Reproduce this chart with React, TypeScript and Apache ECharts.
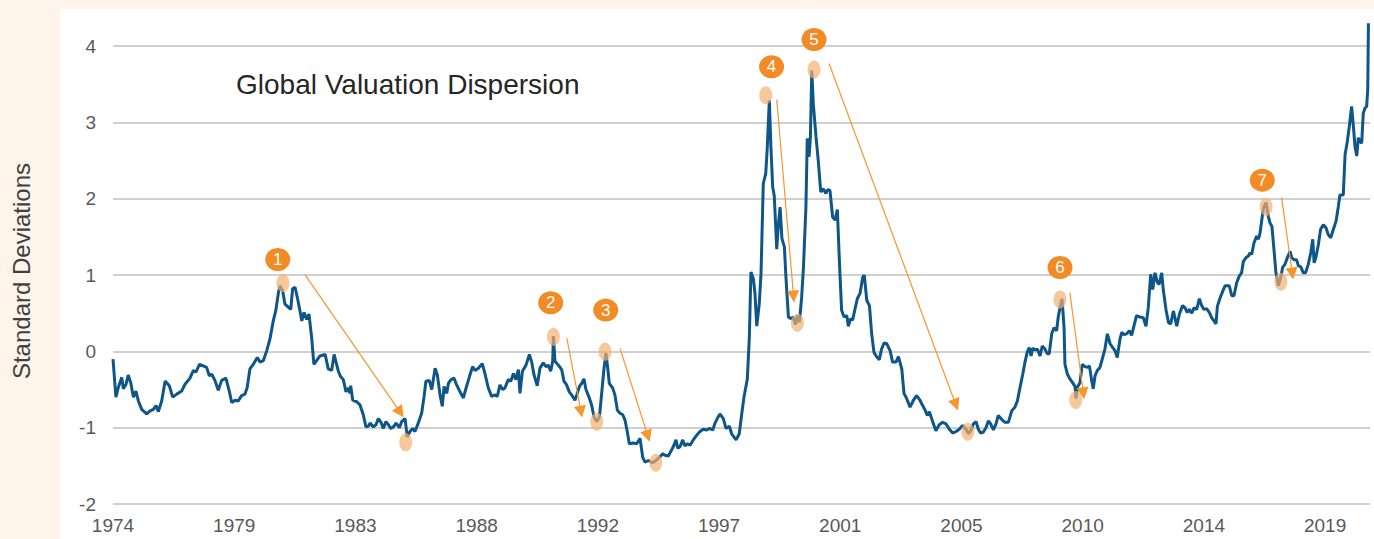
import React, { useEffect, useRef } from 'react';
import * as echarts from 'echarts';

// x position of every reading, in months after the first one (Jan 1974)
const months: number[] = [
  0.0, 1.3, 2.4, 3.9, 4.6, 5.8, 6.8, 7.9, 9.1, 10.2,
  11.3, 12.8, 15.0, 16.5, 18.0, 19.2, 20.2, 21.7, 23.2, 25.1,
  26.6, 28.4, 30.6, 32.1, 34.3, 35.8, 37.0, 38.5, 40.2, 41.7,
  42.9, 44.0, 45.4, 46.9, 48.4, 50.3, 51.8, 52.9, 54.4, 55.8,
  57.3, 58.8, 59.8, 61.0, 62.5, 64.3, 65.5, 67.0, 68.5, 69.9,
  71.4, 72.5, 73.7, 74.4, 75.6, 76.6, 78.1, 79.2, 80.0, 81.1,
  82.1, 83.3, 84.1, 85.1, 86.3, 87.3, 88.5, 89.5, 90.7, 92.2,

  94.5, 95.9, 97.4, 98.5, 99.7, 100.4, 101.4, 102.6, 103.8, 104.8,
  105.6, 105.9, 106.8, 108.6, 110.0, 111.5, 112.7, 113.8, 114.5, 116.0,
  117.2, 118.2, 119.4, 120.4, 121.6, 122.7, 123.7, 124.9, 126.1, 127.6,
  128.6, 130.1, 131.1, 132.3, 133.5, 134.5, 136.0, 137.5, 138.6, 139.4,
  140.9, 142.0, 143.5, 144.5, 145.7, 146.7, 147.5, 148.7, 149.4, 150.6,
  151.9, 153.1, 154.6, 156.1, 157.3, 158.8, 160.2, 161.3, 162.8, 164.5,
  165.7, 167.2, 168.7, 170.2, 171.2, 172.4, 173.6, 174.6, 176.1, 177.2,
  178.4, 179.5, 180.6, 181.3, 182.4, 184.0, 185.5, 186.6, 187.5,

  189.0, 190.2, 191.7, 192.9, 193.9, 195.0, 195.9, 196.2, 196.9, 198.4,
  199.9, 200.9, 202.1, 203.3, 204.8, 205.8, 206.6, 207.8, 208.8, 209.8,
  210.7, 212.2, 213.2, 214.3, 215.5, 216.7, 217.7, 218.7, 219.6, 220.4,
  221.1, 222.6, 223.6, 224.7, 225.9, 227.1, 228.1, 229.1, 230.0, 231.8,
  233.3, 234.8, 236.0, 237.0, 238.5, 240.4, 241.9, 243.7, 244.9, 245.9,
  247.4, 248.9, 249.9, 250.8, 251.6, 252.6, 253.8, 254.8, 255.9, 257.1,
  258.5, 260.0, 261.5, 263.0, 264.5, 265.7, 267.2, 268.2, 269.2,

  270.4, 271.9, 273.1, 274.6, 275.6, 277.6, 279.0, 280.1, 281.1, 282.6,
  283.5, 284.2, 285.3, 286.0, 286.8, 287.9, 288.7, 289.7, 290.8, 291.5,
  292.4, 293.1, 293.9, 294.6, 295.7, 296.4, 297.2, 298.0, 299.1, 299.8,
  300.9, 301.9, 303.1, 304.0, 304.9, 305.8, 306.8, 307.6, 308.7, 309.3,
  310.1, 310.7, 311.3, 312.0, 313.2, 314.2, 315.3, 316.5, 317.6, 318.4,
  319.4, 320.6, 321.7, 322.7, 323.6, 324.6, 325.7, 326.9, 327.6, 328.6,
  329.5, 330.6, 331.6, 332.8, 334.0, 334.7, 335.8, 337.0, 338.0, 339.0,
  340.2, 341.4, 342.4, 343.5, 344.7, 346.2, 347.3, 348.8, 349.9, 351.4,
  352.4, 353.6, 355.1, 356.6, 358.0, 359.5, 360.7, 361.8, 362.8, 363.7,

  365.5, 366.6, 368.1, 369.6, 371.1, 372.6, 374.1, 375.6, 377.0, 378.5,
  380.0, 381.1, 382.1, 383.3, 384.5, 385.5, 386.5, 387.7, 388.9, 390.0,
  391.0, 392.2, 393.4, 394.4, 395.9, 397.4, 398.9, 400.4, 401.8, 402.9,
  404.1, 405.3, 406.3, 407.3, 408.2, 409.0, 409.7, 410.8, 411.8, 413.0,
  414.0, 415.2, 416.2, 417.1, 418.2, 419.2, 420.4, 421.1, 422.2, 422.8,
  423.7, 424.1, 425.2, 426.3, 427.5, 428.6, 429.0, 429.6, 430.8, 431.8,
  433.0, 434.1, 435.0, 436.0, 436.7, 437.5, 438.5, 439.7, 440.9, 441.9,
  443.0, 444.2, 445.4, 446.4, 447.4, 448.6, 449.4, 450.4, 451.6, 452.8,
  453.8, 454.9, 456.0, 457.5,

  459.0, 460.2, 461.2, 462.3, 463.2, 464.2, 465.3, 466.1, 467.2, 467.9,
  469.1, 470.2, 471.2, 472.4, 473.1, 473.9, 475.1, 476.5, 477.6, 478.6,
  479.5, 480.6, 481.6, 482.8, 484.0, 485.0, 486.0, 487.2, 488.4, 489.5,
  490.5, 491.4, 492.0, 493.2, 494.4, 495.4, 496.1, 497.3, 498.4, 499.4,
  500.6, 501.8, 502.8, 503.6, 504.8, 505.8, 506.5, 507.3, 508.3, 509.5,
  510.3, 511.0, 512.2, 512.8, 513.7, 514.7, 515.5, 516.3, 517.2, 518.1,
  519.2, 520.2, 521.1, 522.1, 523.2, 524.4, 525.1, 526.1, 527.3, 528.1,
  529.1, 530.3, 531.3, 532.5, 533.6, 534.5, 535.1, 535.9, 537.0, 538.0,
  539.2, 540.4, 541.4, 542.5, 543.7, 544.9, 545.9, 546.6, 548.1, 548.9,
  549.9, 550.8, 551.8, 552.6, 553.3, 554.1, 554.8, 555.5, 556.3, 557.0,
  557.8, 558.5, 559.0, 559.3,
];

// Global valuation dispersion, in standard deviations
const values: number[] = [
  -0.10, -0.60, -0.47, -0.34, -0.49, -0.43, -0.31, -0.41, -0.60, -0.52,
  -0.65, -0.76, -0.82, -0.78, -0.76, -0.71, -0.79, -0.65, -0.39, -0.45,
  -0.60, -0.56, -0.52, -0.43, -0.35, -0.25, -0.27, -0.17, -0.19, -0.21,
  -0.32, -0.30, -0.38, -0.51, -0.38, -0.35, -0.52, -0.67, -0.64, -0.65,
  -0.58, -0.56, -0.47, -0.23, -0.17, -0.08, -0.14, -0.12, 0.01, 0.16,
  0.40, 0.53, 0.77, 0.86, 0.79, 0.62, 0.58, 0.55, 0.82, 0.84,
  0.71, 0.53, 0.40, 0.51, 0.42, 0.49, 0.18, -0.17, -0.12, -0.06,

  -0.04, -0.23, -0.25, -0.04, -0.18, -0.26, -0.33, -0.37, -0.53, -0.48,
  -0.55, -0.45, -0.64, -0.66, -0.70, -0.83, -0.99, -0.98, -0.94, -0.99,
  -0.96, -0.88, -0.93, -1.01, -0.92, -0.96, -1.01, -0.99, -0.94, -1.00,
  -0.92, -0.88, -1.12, -1.05, -1.01, -1.05, -0.94, -0.81, -0.59, -0.39,
  -0.38, -0.50, -0.22, -0.31, -0.57, -0.72, -0.46, -0.55, -0.42, -0.37,
  -0.35, -0.44, -0.53, -0.61, -0.48, -0.33, -0.20, -0.25, -0.22, -0.16,
  -0.29, -0.48, -0.59, -0.57, -0.59, -0.44, -0.50, -0.48, -0.37, -0.39,
  -0.29, -0.37, -0.24, -0.55, -0.26, -0.18, -0.04, -0.15, -0.30,

  -0.45, -0.22, -0.15, -0.20, -0.18, -0.26, -0.13, 0.20, -0.13, -0.18,
  -0.24, -0.39, -0.44, -0.53, -0.59, -0.64, -0.57, -0.46, -0.42, -0.36,
  -0.50, -0.61, -0.70, -0.86, -0.92, -0.86, -0.55, -0.24, -0.02, -0.22,
  -0.42, -0.48, -0.57, -0.77, -0.81, -0.83, -0.90, -1.05, -1.21, -1.20,
  -1.21, -1.14, -1.39, -1.45, -1.43, -1.46, -1.43, -1.38, -1.34, -1.36,
  -1.37, -1.29, -1.23, -1.16, -1.27, -1.25, -1.16, -1.24, -1.21, -1.23,
  -1.16, -1.10, -1.05, -1.02, -1.03, -1.01, -1.03, -0.94, -0.88,

  -0.82, -0.88, -1.01, -0.98, -1.08, -1.16, -1.08, -0.82, -0.60, -0.36,
  0.19, 1.04, 0.95, 0.76, 0.33, 0.62, 1.02, 2.20, 2.33, 2.68,
  3.29, 2.68, 2.15, 2.04, 1.34, 1.65, 1.89, 1.48, 1.37, 0.97,
  0.45, 0.43, 0.45, 0.35, 0.47, 0.38, 0.71, 1.10, 1.89, 2.79,
  2.55, 2.81, 3.68, 3.24, 2.81, 2.50, 2.09, 2.13, 2.07, 2.12,
  2.11, 1.76, 1.72, 1.86, 1.19, 0.54, 0.45, 0.47, 0.33, 0.43,
  0.41, 0.56, 0.69, 0.76, 0.97, 1.00, 0.67, 0.60, 0.23, -0.01,
  -0.07, -0.11, 0.03, 0.11, 0.10, 0.01, -0.14, -0.14, -0.07, -0.23,
  -0.55, -0.62, -0.73, -0.64, -0.58, -0.64, -0.71, -0.77, -0.84, -0.79,

  -0.95, -1.04, -0.96, -0.93, -0.95, -1.02, -1.07, -1.05, -1.02, -0.97,
  -1.02, -1.08, -1.04, -0.95, -0.92, -1.02, -1.07, -1.06, -1.00, -0.91,
  -0.95, -1.03, -0.95, -0.84, -0.89, -0.93, -0.93, -0.78, -0.73, -0.65,
  -0.47, -0.30, -0.14, -0.01, 0.05, -0.06, 0.04, 0.02, 0.03, -0.06,
  0.07, 0.03, -0.03, -0.03, 0.23, 0.31, 0.27, 0.45, 0.62, 0.69,
  0.31, -0.17, -0.30, -0.36, -0.41, -0.46, -0.62, -0.47, -0.41, -0.17,
  -0.20, -0.21, -0.19, -0.38, -0.49, -0.32, -0.25, -0.21, -0.08, 0.03,
  0.23, 0.10, 0.05, 0.01, -0.08, 0.16, 0.25, 0.22, 0.23, 0.27,
  0.21, 0.34, 0.47, 0.45,

  0.44, 0.33, 0.57, 1.01, 0.81, 1.03, 0.90, 0.88, 1.03, 0.81,
  0.55, 0.38, 0.36, 0.53, 0.44, 0.33, 0.49, 0.60, 0.57, 0.51,
  0.55, 0.50, 0.57, 0.55, 0.69, 0.60, 0.55, 0.56, 0.51, 0.44,
  0.40, 0.36, 0.59, 0.70, 0.79, 0.86, 0.86, 0.86, 0.73, 0.73,
  0.90, 0.99, 1.03, 1.18, 1.23, 1.25, 1.29, 1.27, 1.42, 1.51,
  1.47, 1.55, 1.81, 1.90, 1.95, 1.77, 1.68, 1.64, 1.34, 1.03,
  0.86, 0.97, 1.10, 1.14, 1.23, 1.31, 1.23, 1.20, 1.20, 1.12,
  1.11, 1.03, 1.03, 1.14, 1.29, 1.47, 1.16, 1.23, 1.40, 1.60,
  1.66, 1.62, 1.53, 1.49, 1.60, 1.71, 1.90, 2.05, 2.05, 2.58,
  2.75, 2.95, 3.21, 2.95, 2.69, 2.56, 2.80, 2.75, 2.73, 3.12,
  3.19, 3.21, 3.43, 4.30,
];

// x-axis labels, one every 54 months
const tickLabels = ['1974', '1979', '1983', '1988', '1992', '1997', '2001', '2005', '2010', '2014', '2019'];
const tickStep = 54;
const monthMax = 560;

// numbered episode badges
const badgeLabels = ['1', '2', '3', '4', '5', '6', '7'];
const badgeMonths = [73.4, 195.0, 219.5, 293.4, 312.3, 421.9, 512.0];
const badgeValues = [1.205, 0.637, 0.541, 3.729, 4.088, 1.1, 2.244];

// highlighted peaks and troughs
const highlightMonths = [75.7, 130.4, 196.2, 215.5, 219.2, 241.8, 290.8, 304.9, 312.3, 380.8, 421.9, 428.9, 513.7, 520.3];
const highlightValues = [0.895, -1.192, 0.191, -0.922, -0.005, -1.459, 3.358, 0.375, 3.694, -1.053, 0.681, -0.638, 1.894, 0.912];

// arrows from each peak to the following trough
const arrowStartMonths = [85.5, 202.2, 225.9, 295.7, 319.0, 426.3, 520.6];
const arrowStartValues = [1.005, 0.17, 0.039, 3.301, 3.773, 0.768, 2.018];
const arrowEndMonths = [128.0, 208.5, 238.3, 303.2, 375.5, 432.3, 525.4];
const arrowEndValues = [-0.8, -0.79, -1.11, 0.72, -0.7, -0.55, 1.02];

const FONT = '"Liberation Sans", Arial, Helvetica, sans-serif';

export default function App() {
  const ref = useRef<HTMLDivElement>(null);

  useEffect(() => {
    if (!ref.current) return;
    const chart = echarts.init(ref.current, null, { renderer: 'svg' });

    const lineData = months.map((m, i) => [m, values[i]]);

    const highlightPoints = highlightMonths.map((m, i) => ({
      coord: [m, highlightValues[i]],
      symbol: 'circle',
      symbolSize: [13, 18],
      itemStyle: { color: 'rgba(244, 176, 112, 0.7)' },
      label: { show: false },
    }));
    const badgePoints = badgeMonths.map((m, i) => ({
      coord: [m, badgeValues[i]],
      symbol: 'circle',
      symbolSize: [25, 23],
      itemStyle: { color: '#F28A26' },
      label: {
        show: true,
        position: 'inside',
        formatter: badgeLabels[i],
        color: '#ffffff',
        fontSize: 17,
        fontFamily: FONT,
      },
    }));
    const arrows = arrowStartMonths.map((m, i) => [
      { coord: [m, arrowStartValues[i]], symbol: 'none' },
      { coord: [arrowEndMonths[i], arrowEndValues[i]], symbol: 'triangle', symbolSize: 12 },
    ]);

    chart.setOption({
      animation: false,
      backgroundColor: '#FEF4EA',
      textStyle: { fontFamily: FONT },
      grid: { left: 113, right: 4, top: 8, bottom: 35, containLabel: false },
      graphic: [
        {
          type: 'rect',
          z: -100,
          silent: true,
          shape: { x: 60, y: 9, width: 1314, height: 530 },
          style: { fill: '#ffffff' },
        },
        {
          type: 'text',
          silent: true,
          x: 236,
          y: 84,
          style: {
            text: 'Global Valuation Dispersion',
            fontSize: 28,
            fontFamily: FONT,
            fill: '#262626',
            align: 'left',
            verticalAlign: 'middle',
          },
        },
        {
          type: 'text',
          silent: true,
          x: 21,
          y: 271,
          rotation: Math.PI / 2,
          style: {
            text: 'Standard Deviations',
            fontSize: 24,
            fontFamily: FONT,
            fill: '#404040',
            align: 'center',
            verticalAlign: 'middle',
          },
        },
      ],
      xAxis: {
        type: 'value',
        min: 0,
        max: monthMax,
        interval: tickStep,
        axisLine: { show: false },
        axisTick: { show: false },
        splitLine: { show: false },
        axisLabel: {
          showMaxLabel: false,
          margin: 12,
          fontSize: 19,
          color: '#595959',
          fontFamily: FONT,
          formatter: (v: number) => (v % tickStep === 0 ? tickLabels[v / tickStep] ?? '' : ''),
        },
      },
      yAxis: {
        type: 'value',
        min: -2,
        max: 4.5,
        interval: 1,
        axisLine: { show: false },
        axisTick: { show: false },
        splitLine: { show: true, showMaxLine: false, lineStyle: { color: '#C0C0C0', width: 1.6 } },
        axisLabel: {
          showMaxLabel: false,
          margin: 17,
          fontSize: 19,
          color: '#595959',
          fontFamily: FONT,
          formatter: (v: number) => (Number.isInteger(v) ? String(v) : ''),
        },
      },
      series: [
        {
          type: 'line',
          data: lineData,
          showSymbol: false,
          symbol: 'none',
          silent: true,
          lineStyle: { color: '#0E5588', width: 3 },
          markLine: {
            silent: true,
            animation: false,
            symbol: ['none', 'triangle'],
            symbolSize: 12,
            label: { show: false },
            itemStyle: { color: '#F5962F' },
            lineStyle: { color: '#F5962F', width: 1.2, type: 'solid' },
            emphasis: { disabled: true },
            data: arrows,
          },
          markPoint: {
            silent: true,
            animation: false,
            emphasis: { disabled: true },
            data: [...highlightPoints, ...badgePoints],
          },
        },
      ],
    });

    return () => chart.dispose();
  }, []);

  return (
    <div
      ref={ref}
      style={{ position: 'absolute', left: 0, top: 0, width: 1374, height: 539 }}
    />
  );
}
